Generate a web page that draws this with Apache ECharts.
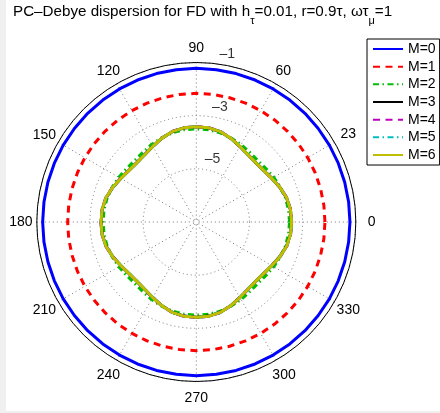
<!DOCTYPE html>
<html><head><meta charset="utf-8">
<script src="https://cdn.jsdelivr.net/npm/echarts@6/dist/echarts.min.js"></script>
<style>html,body{margin:0;padding:0;background:#fff;} #c{width:440px;height:413px;}</style>
</head><body><div id="c"></div>
<script>
// ---- data ----
const seriesNames = ['M=0','M=1','M=2','M=3','M=4','M=5','M=6'];
const angles = [0,7.5,15,22.5,30,37.5,45,52.5,60,67.5,75,82.5,
  90,97.5,105,112.5,120,127.5,135,142.5,150,157.5,165,172.5,
  180,187.5,195,202.5,210,217.5,225,232.5,240,247.5,255,262.5,
  270,277.5,285,292.5,300,307.5,315,322.5,330,337.5,345,352.5,360];
const m0 = [-1.22,-1.22,-1.22,-1.22,-1.22,-1.22,-1.22,-1.22,-1.22,-1.22,-1.22,-1.22,
  -1.22,-1.22,-1.22,-1.22,-1.22,-1.22,-1.22,-1.22,-1.22,-1.22,-1.22,-1.22,
  -1.22,-1.22,-1.22,-1.22,-1.22,-1.22,-1.22,-1.22,-1.22,-1.22,-1.22,-1.22,
  -1.22,-1.22,-1.22,-1.22,-1.22,-1.22,-1.22,-1.22,-1.22,-1.22,-1.22,-1.22,-1.22];
const m1 = [-2.16,-2.16,-2.16,-2.16,-2.16,-2.16,-2.16,-2.16,-2.16,-2.16,-2.16,-2.16,
  -2.16,-2.16,-2.16,-2.16,-2.16,-2.16,-2.16,-2.16,-2.16,-2.16,-2.16,-2.16,
  -2.16,-2.16,-2.16,-2.16,-2.16,-2.16,-2.16,-2.16,-2.16,-2.16,-2.16,-2.16,
  -2.16,-2.16,-2.16,-2.16,-2.16,-2.16,-2.16,-2.16,-2.16,-2.16,-2.16,-2.16,-2.16];
const m2 = [-3.494,-3.50,-3.527,-3.576,-3.633,-3.697,-3.727,-3.697,-3.633,-3.576,-3.527,-3.50,
  -3.494,-3.50,-3.527,-3.576,-3.633,-3.697,-3.727,-3.697,-3.633,-3.576,-3.527,-3.50,
  -3.494,-3.50,-3.527,-3.576,-3.633,-3.697,-3.727,-3.697,-3.633,-3.576,-3.527,-3.50,
  -3.494,-3.50,-3.527,-3.576,-3.633,-3.697,-3.727,-3.697,-3.633,-3.576,-3.527,-3.50,-3.494];
const m3 = [-3.418,-3.429,-3.485,-3.598,-3.721,-3.812,-3.842,-3.812,-3.721,-3.598,-3.485,-3.429,
  -3.418,-3.429,-3.485,-3.598,-3.721,-3.812,-3.842,-3.812,-3.721,-3.598,-3.485,-3.429,
  -3.418,-3.429,-3.485,-3.598,-3.721,-3.812,-3.842,-3.812,-3.721,-3.598,-3.485,-3.429,
  -3.418,-3.429,-3.485,-3.598,-3.721,-3.812,-3.842,-3.812,-3.721,-3.598,-3.485,-3.429,-3.418];
const m4 = [-3.410,-3.421,-3.477,-3.590,-3.713,-3.804,-3.834,-3.804,-3.713,-3.590,-3.477,-3.421,
  -3.410,-3.421,-3.477,-3.590,-3.713,-3.804,-3.834,-3.804,-3.713,-3.590,-3.477,-3.421,
  -3.410,-3.421,-3.477,-3.590,-3.713,-3.804,-3.834,-3.804,-3.713,-3.590,-3.477,-3.421,
  -3.410,-3.421,-3.477,-3.590,-3.713,-3.804,-3.834,-3.804,-3.713,-3.590,-3.477,-3.421,-3.410];
const m5 = [-3.416,-3.427,-3.483,-3.596,-3.720,-3.811,-3.841,-3.811,-3.720,-3.596,-3.483,-3.427,
  -3.416,-3.427,-3.483,-3.596,-3.720,-3.811,-3.841,-3.811,-3.720,-3.596,-3.483,-3.427,
  -3.416,-3.427,-3.483,-3.596,-3.720,-3.811,-3.841,-3.811,-3.720,-3.596,-3.483,-3.427,
  -3.416,-3.427,-3.483,-3.596,-3.720,-3.811,-3.841,-3.811,-3.720,-3.596,-3.483,-3.427,-3.416];
const m6 = [-3.415,-3.426,-3.482,-3.595,-3.719,-3.810,-3.840,-3.810,-3.719,-3.595,-3.482,-3.426,
  -3.415,-3.426,-3.482,-3.595,-3.719,-3.810,-3.840,-3.810,-3.719,-3.595,-3.482,-3.426,
  -3.415,-3.426,-3.482,-3.595,-3.719,-3.810,-3.840,-3.810,-3.719,-3.595,-3.482,-3.426,
  -3.415,-3.426,-3.482,-3.595,-3.719,-3.810,-3.840,-3.810,-3.719,-3.595,-3.482,-3.426,-3.415];
const angleTickLabels = ['0','23','60','90','120','150','180','210','240','270','300','330'];
const radialTicks = [-1,-3,-5];
const rMin = -7, rMax = -1, rStep = 2;

// ---- styles ----
const FONT = 'Liberation Sans, Arial, Helvetica, sans-serif';
const styles = [
  {color:'#0000ff', type:'solid', width:3},
  {color:'#ff0000', type:[7,5.5], width:3},
  {color:'#00bf00', type:[6,3.5,1.5,3.5], width:3},
  {color:'#000000', type:'solid', width:3},
  {color:'#bf00bf', type:[7,5.5], width:3},
  {color:'#00bfbf', type:[6,3.5,1.5,3.5], width:3},
  {color:'#bfbf00', type:'solid', width:3}
];
const seriesValues = [m0,m1,m2,m3,m4,m5,m6];
// label paddings [top,right,bottom,left] to centre MATLAB-like labels
const labelPads = [[0,0,0,20],[0,0,5,13],[0,0,12.8,3.4],[0,0,15.8,0],[0,0.5,12.8,0],[0,9.1,4,0],
  [0,12.3,0,0],[5.2,9.1,0,0],[14.8,0.5,0,0],[17.8,0,0,0],[14.8,0,0,0.3],[5.2,0,0,9.1]];
const rich = {};
labelPads.forEach((p,i)=>{ rich['p'+i] = {fontSize:14, color:'#000', fontFamily:FONT, padding:p}; });

const series = seriesValues.map((vals,k)=>({
  name: seriesNames[k], type:'line', coordinateSystem:'polar', polarIndex:0,
  data: vals.map((v,i)=>[v, angles[i]]),
  symbol:'none', smooth:false, animation:false,
  lineStyle:{color:styles[k].color, type:styles[k].type, width:styles[k].width},
  itemStyle:{color:styles[k].color}, z: 2+k
}));
series.push({
  type:'scatter', coordinateSystem:'polar', polarIndex:0, silent:true, animation:false,
  data: radialTicks.map(v=>[v, 82]), symbolSize:0, z:20,
  label:{show:true, position:'top', distance:3, align:'left', offset:[1,0],
    formatter: p => '–' + Math.abs(p.value[0]), fontSize:14, color:'#000', fontFamily:FONT}
});

const chart = echarts.init(document.getElementById('c'), null, {renderer:'canvas'});
chart.setOption({
  backgroundColor:'#ffffff',
  animation:false,
  textStyle:{fontFamily:FONT},
  graphic:[
    {type:'rect', left:0, top:0, shape:{width:6,height:413}, style:{fill:'#f0f0f0'}, silent:true, z:-10},
    {type:'rect', left:0, top:411, shape:{width:440,height:2}, style:{fill:'#f0f0f0'}, silent:true, z:-10}
  ],
  title:{
    text:'{a|PC–Debye dispersion for FD with h}{s|τ}{a|=0.01, r=0.9τ, ωτ}{s|μ}{a|=1}',
    left:13, top:-2, padding:0,
    textStyle:{fontWeight:'normal', rich:{
      a:{fontSize:15.2, fontWeight:'normal', color:'#000', fontFamily:FONT},
      s:{fontSize:11, fontWeight:'normal', color:'#000', fontFamily:FONT, padding:[17,0,0,0]}
    }}
  },
  legend:{
    data: seriesNames, orient:'vertical', left:367, top:39, padding:[3,4,3,5],
    itemWidth:30, itemHeight:14, itemGap:3.67, borderColor:'#000', borderWidth:1,
    backgroundColor:'#fff', itemStyle:{opacity:0},
    textStyle:{fontSize:14, color:'#000', fontFamily:FONT}
  },
  polar:{center:[196.3,222], radius:159.5},
  angleAxis:{
    type:'value', min:0, max:360, interval:30, startAngle:0, clockwise:false, z:1,
    axisLine:{show:true, lineStyle:{color:'#000', width:1}},
    axisTick:{show:false},
    axisLabel:{show:true, margin:-8, fontSize:14, color:'#000', fontFamily:FONT, rich:rich,
      formatter: v => { const i = Math.round(v/30); return i < angleTickLabels.length ? '{p'+i+'|'+angleTickLabels[i]+'}' : ''; }},
    splitLine:{show:true, lineStyle:{color:'#777', width:1, type:[1,3]}}
  },
  radiusAxis:{
    type:'value', min:rMin, max:rMax, interval:rStep, z:0,
    axisLine:{show:false}, axisTick:{show:false}, axisLabel:{show:false},
    splitLine:{show:true, lineStyle:{color:'#777', width:1, type:[1,3]}}
  },
  series: series
});
</script></body></html>
